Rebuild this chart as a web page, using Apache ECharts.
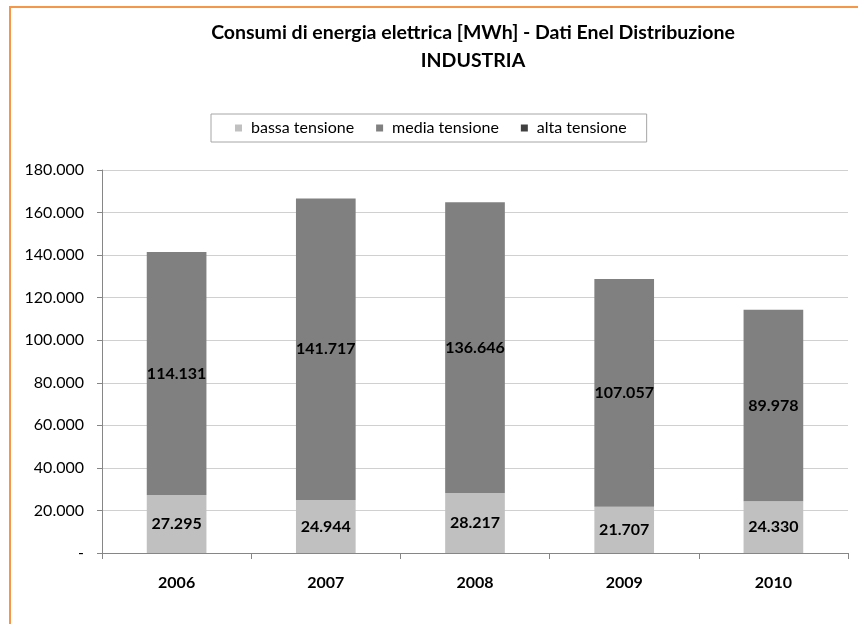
<!DOCTYPE html>
<html>
<head>
<meta charset="utf-8">
<script src="https://cdn.jsdelivr.net/npm/echarts@6/dist/echarts.min.js"></script>
<style>
  html, body { margin: 0; padding: 0; background: #fff; }
  #chart { width: 858px; height: 624px; }
</style>
</head>
<body>
<div id="chart"></div>
<script>
// Anni di riferimento
const anni = ['2006', '2007', '2008', '2009', '2010'];
// Consumi per livello di tensione [MWh]
const bassaTensione = [27295, 24944, 28217, 21707, 24330];
const mediaTensione = [114131, 141717, 136646, 107057, 89978];
const altaTensione = [0, 0, 0, 0, 0];
// Scala dell'asse dei valori
const yMin = 0, yMax = 180000, yStep = 20000;

const FONT = 'Lato, "Open Sans", sans-serif';

function fmt(v) {
  if (v === 0) return '-';
  return String(Math.round(v)).replace(/\B(?=(\d{3})+(?!\d))/g, '.');
}

const chart = echarts.init(document.getElementById('chart'), null, { renderer: 'canvas' });

function serie(nome, dati, colore) {
  return {
    name: nome,
    type: 'bar',
    stack: 'tot',
    data: dati,
    barWidth: '40%',
    itemStyle: { color: colore },
    label: {
      show: true,
      position: 'inside',
      formatter: p => (p.value ? fmt(p.value) : ''),
      color: '#000',
      fontFamily: FONT,
      fontWeight: 'bold',
      fontSize: 16
    }
  };
}

chart.setOption({
  animation: false,
  backgroundColor: '#fff',
  textStyle: { fontFamily: FONT },
  title: {
    text: 'Consumi di energia elettrica [MWh] - Dati Enel Distribuzione\nINDUSTRIA',
    left: 468,
    top: 14,
    textAlign: 'center',
    textStyle: {
      fontFamily: FONT,
      fontWeight: 'bold',
      fontSize: 19.5,
      lineHeight: 28,
      color: '#000'
    }
  },
  legend: {
    top: 114,
    left: 211,
    data: ['bassa tensione', 'media tensione', 'alta tensione'],
    icon: 'rect',
    itemWidth: 7,
    itemHeight: 7,
    itemGap: 22,
    padding: [6, 20, 6, 24],
    borderColor: '#a6a6a6',
    borderWidth: 1,
    textStyle: { fontFamily: FONT, fontSize: 16, color: '#000', padding: [0, 0, 0, 4] }
  },
  grid: { left: 102, right: 10, top: 170, bottom: 71, containLabel: false },
  xAxis: {
    type: 'category',
    data: anni,
    axisLine: { lineStyle: { color: '#868686' } },
    axisTick: { show: true, length: 6, lineStyle: { color: '#868686' } },
    axisLabel: {
      margin: 22,
      color: '#000',
      fontFamily: FONT,
      fontWeight: 'bold',
      fontSize: 16
    }
  },
  yAxis: {
    type: 'value',
    min: yMin,
    max: yMax,
    interval: yStep,
    axisLine: { show: true, lineStyle: { color: '#868686' } },
    axisTick: { show: true, length: 5, lineStyle: { color: '#868686' } },
    splitLine: { lineStyle: { color: '#d0d0d0' } },
    axisLabel: {
      formatter: fmt,
      margin: 18,
      color: '#000',
      fontFamily: FONT,
      fontSize: 16
    }
  },
  series: [
    serie('bassa tensione', bassaTensione, '#c0c0c0'),
    serie('media tensione', mediaTensione, '#808080'),
    serie('alta tensione', altaTensione, '#404040')
  ],
  graphic: [
    {
      type: 'polyline',
      shape: { points: [[10, 624], [10, 7], [858, 7]] },
      style: { stroke: '#f79646', lineWidth: 2, fill: null },
      silent: true
    }
  ]
});
</script>
</body>
</html>
